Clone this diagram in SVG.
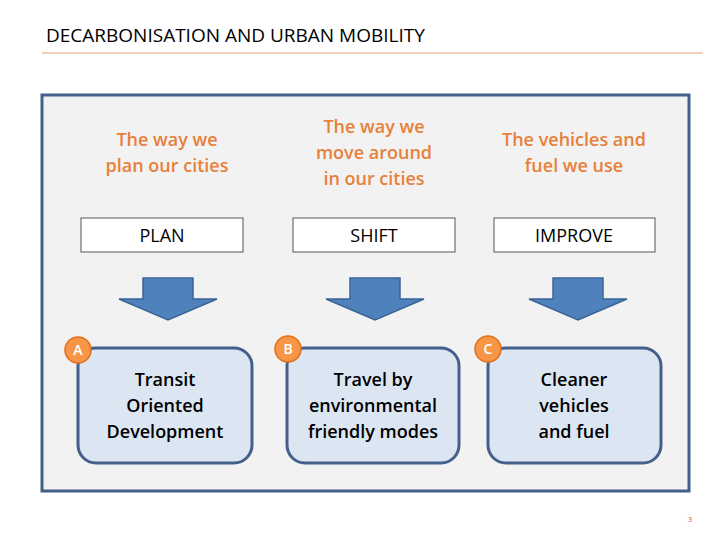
<svg xmlns="http://www.w3.org/2000/svg" width="720" height="540" viewBox="0 0 720 540">
<style>
text{font-family:"Open Sans","Liberation Sans",sans-serif;text-anchor:middle}
.h{fill:#e8803a;font-size:18px;font-weight:600}
.lb{fill:#fff;stroke:#555;stroke-width:1}
.lt{fill:#000;font-size:18px}
.ar{fill:#4f81bd;stroke:#3a6496;stroke-width:1.5}
.bx{fill:#dce6f2;stroke:#44608a;stroke-width:3}
.bt{fill:#000;font-size:18px;font-weight:600}
.c{fill:#f79646;stroke:#e0701a;stroke-width:1.5}
.ct{fill:#fff;font-size:14px;font-weight:600}
</style>
<text x="46" y="42" style="text-anchor:start;font-size:19px;fill:#000">DECARBONISATION AND URBAN MOBILITY</text>
<line x1="42" y1="53" x2="703" y2="53" stroke="#e8a070" stroke-width="1"/>
<rect x="42" y="95" width="647" height="396" fill="#f2f2f2" stroke="#44608a" stroke-width="3"/>
<g id="plan">
<text class="h" x="167" y="146">The way we</text><text class="h" x="167" y="172">plan our cities</text>
<rect class="lb" x="81" y="218" width="162" height="34"/><text class="lt" x="162" y="242">PLAN</text>
</g>
<g id="shift">
<text class="h" x="374" y="133">The way we</text><text class="h" x="374" y="159">move around</text><text class="h" x="374" y="185">in our cities</text>
<rect class="lb" x="293" y="218" width="162" height="34"/><text class="lt" x="374" y="242">SHIFT</text>
</g>
<g id="improve">
<text class="h" x="574" y="146">The vehicles and</text><text class="h" x="574" y="172">fuel we use</text>
<rect class="lb" x="494" y="218" width="161" height="34"/><text class="lt" x="574" y="242">IMPROVE</text>
</g>
<g id="connectors">
<path class="ar" d="M143 278H193V299H217L168 320L119 299H143Z"/>
<path class="ar" d="M350 278H400V299H424L375 320L326 299H350Z"/>
<path class="ar" d="M553 278H603V299H627L578 320L529 299H553Z"/>
</g>
<g id="nodeA">
<rect class="bx" x="78" y="348" width="174" height="115" rx="18"/>
<text class="bt" x="165" y="386">Transit</text><text class="bt" x="165" y="412">Oriented</text><text class="bt" x="165" y="438">Development</text>
<circle class="c" cx="78" cy="350" r="13"/><text class="ct" x="78" y="355">A</text>
</g>
<g id="nodeB">
<rect class="bx" x="287" y="348" width="172" height="115" rx="18"/>
<text class="bt" x="373" y="386">Travel by</text><text class="bt" x="373" y="412">environmental</text><text class="bt" x="373" y="438">friendly modes</text>
<circle class="c" cx="288" cy="349" r="13"/><text class="ct" x="288" y="354">B</text>
</g>
<g id="nodeC">
<rect class="bx" x="488" y="348" width="173" height="115" rx="18"/>
<text class="bt" x="574" y="386">Cleaner</text><text class="bt" x="574" y="412">vehicles</text><text class="bt" x="574" y="438">and fuel</text>
<circle class="c" cx="488" cy="349" r="13"/><text class="ct" x="488" y="354">C</text>
</g>
<text x="690" y="522" style="font-size:7px;fill:#c0504d">3</text>
</svg>
